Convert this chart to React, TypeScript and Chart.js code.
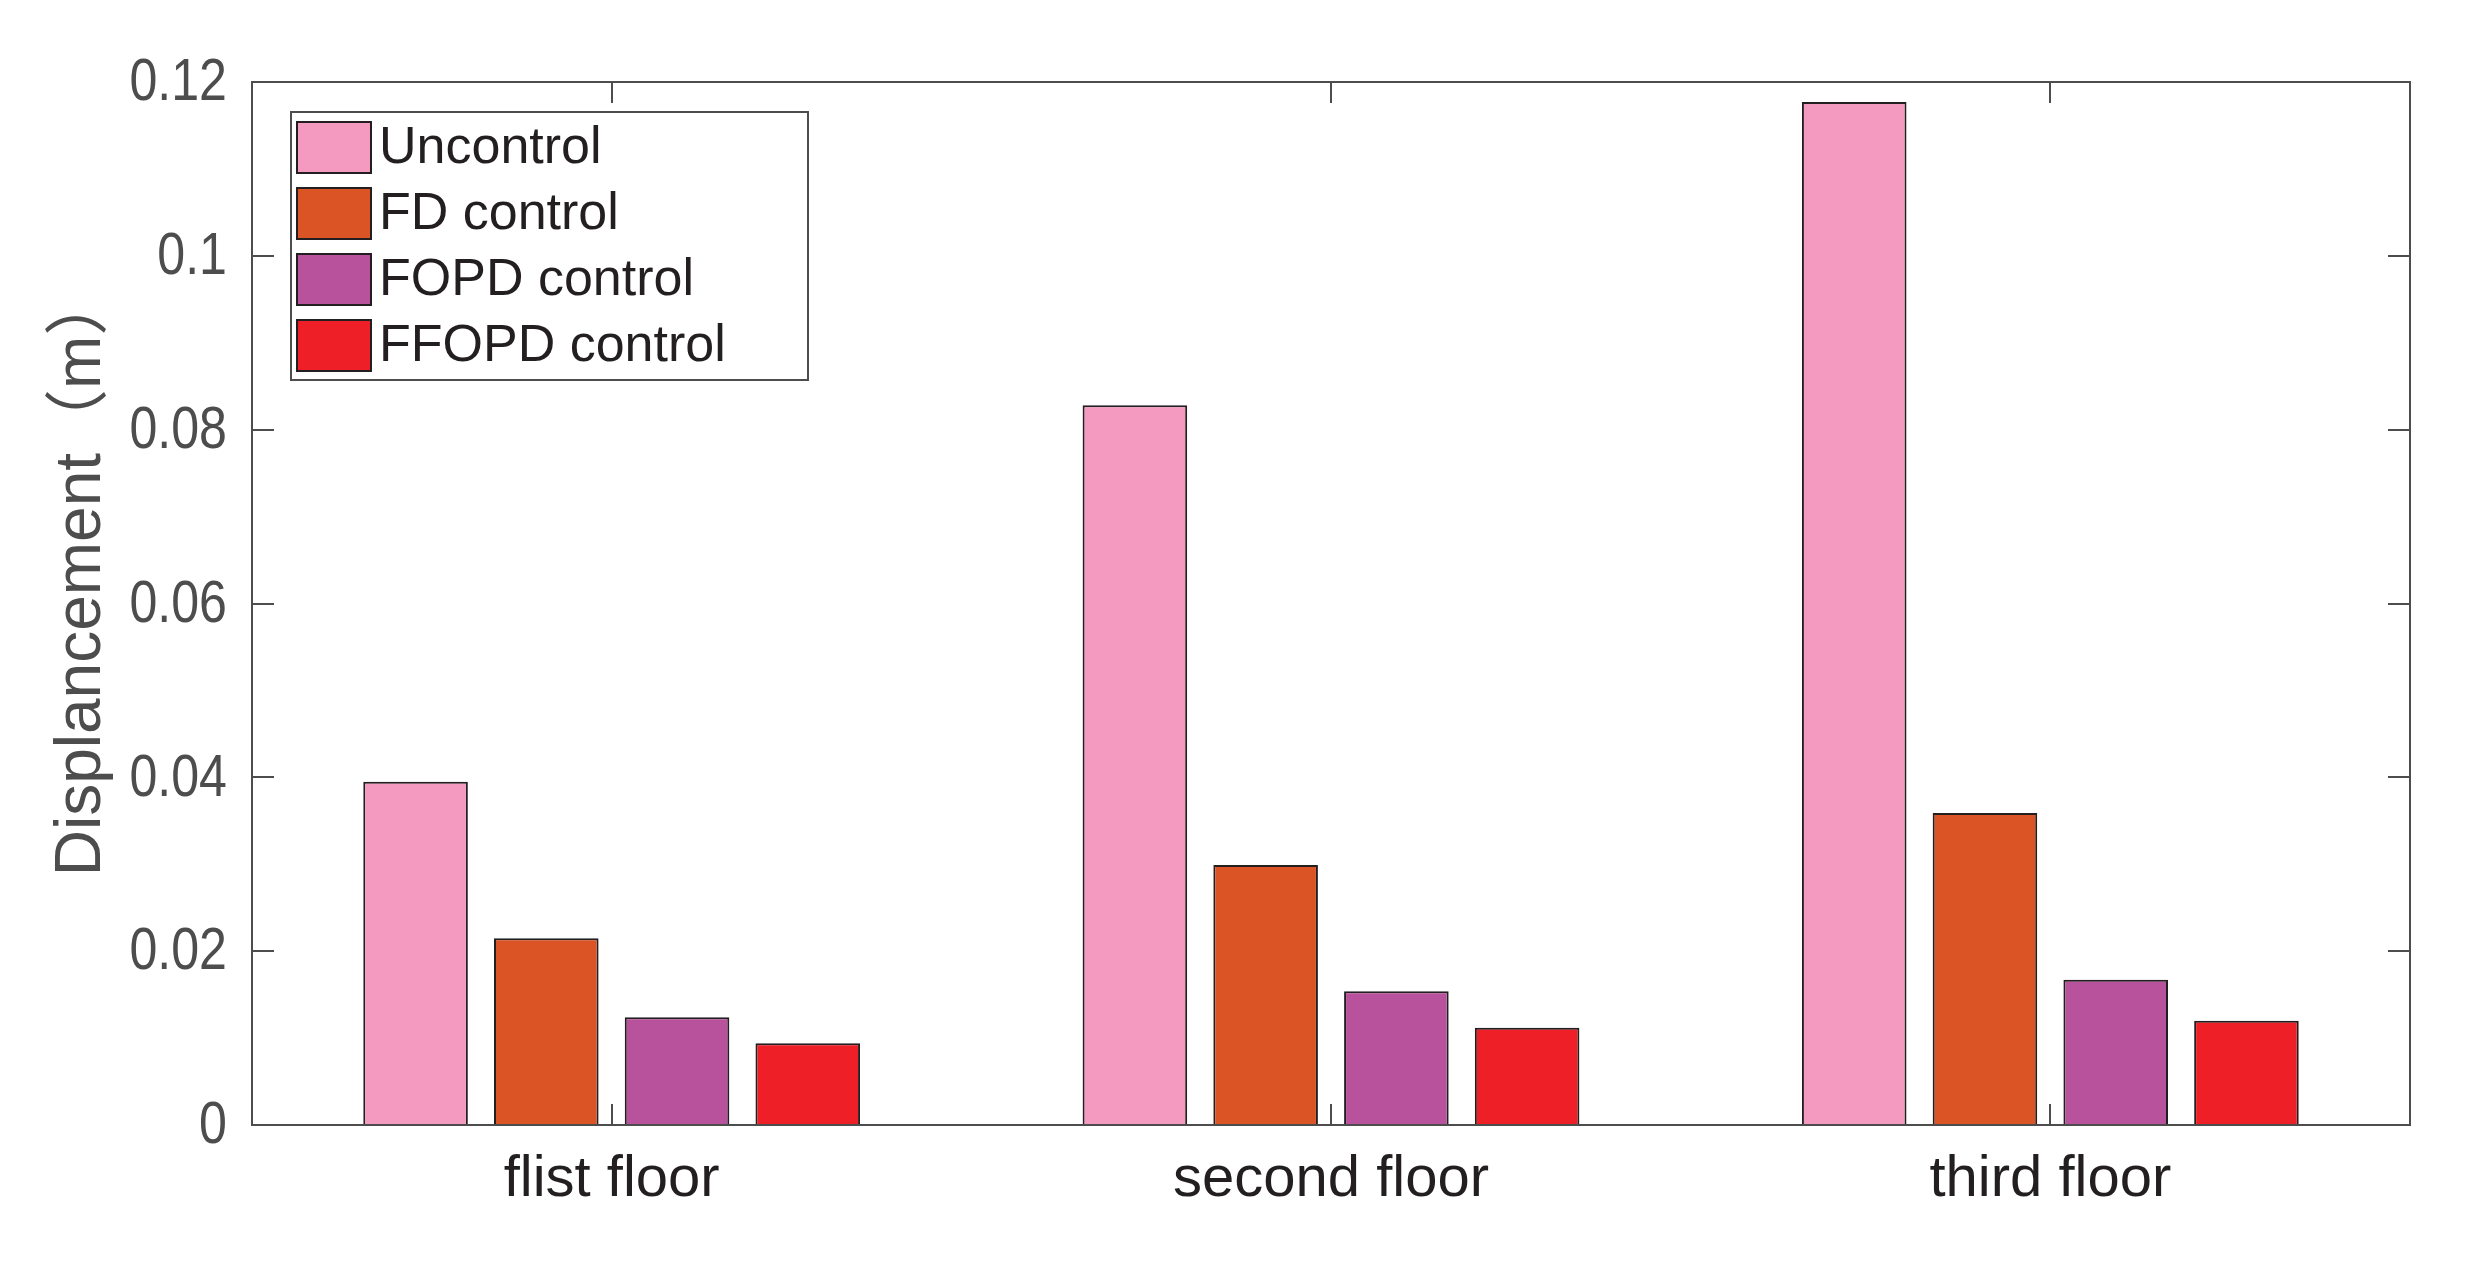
import React, { useEffect, useRef } from "react";
import { Chart, registerables } from "chart.js";

Chart.register(...registerables);

const categories = ["flist floor", "second floor", "third floor"];
const seriesNames = ["Uncontrol", "FD control", "FOPD control", "FFOPD control"];
const uncontrol = [0.0395, 0.0828, 0.1177];
const fdControl = [0.0215, 0.0299, 0.0359];
const fopdControl = [0.0124, 0.0154, 0.0167];
const ffopdControl = [0.0094, 0.0112, 0.0120];
const seriesColors = ["#F49AC1", "#DA5426", "#B8529D", "#EE1F27"];
const yTicks = [0, 0.02, 0.04, 0.06, 0.08, 0.1, 0.12];
const yTitle = "Displancement（m）";

const FONT = "'Liberation Sans', Arial, 'Noto Sans CJK SC', sans-serif";
const AXIS_COLOR = "#4d4d4d";
const TEXT_DARK = "#231f20";

const fmt = (v: number) => String(Number(Number(v).toFixed(2)));

const boxPlugin = {
  id: "matlabBox",
  afterDraw(chart: any) {
    const { ctx, chartArea } = chart;
    const { left, right, top, bottom } = chartArea;
    const xs = chart.scales.x;
    const ys = chart.scales.y;
    ctx.save();
    ctx.strokeStyle = AXIS_COLOR;
    ctx.lineWidth = 2;
    ctx.beginPath();
    ys.ticks.forEach((t: any) => {
      const y = Math.round(ys.getPixelForValue(t.value));
      ctx.moveTo(left, y);
      ctx.lineTo(left + 22, y);
      ctx.moveTo(right, y);
      ctx.lineTo(right - 22, y);
    });
    categories.forEach((_, i) => {
      const x = Math.round(xs.getPixelForValue(i));
      ctx.moveTo(x, bottom);
      ctx.lineTo(x, bottom - 21);
      ctx.moveTo(x, top);
      ctx.lineTo(x, top + 21);
    });
    ctx.stroke();
    ctx.strokeRect(left, top, right - left, bottom - top);

    // y tick labels (slightly condensed, like the original)
    ctx.fillStyle = AXIS_COLOR;
    ctx.font = `59px ${FONT}`;
    ctx.textAlign = "right";
    ctx.textBaseline = "middle";
    ys.ticks.forEach((t: any) => {
      const y = ys.getPixelForValue(t.value);
      ctx.save();
      ctx.translate(left - 25, y + 2);
      ctx.scale(0.85, 1);
      ctx.fillText(fmt(t.value), 0, 0);
      ctx.restore();
    });

    // y-axis title
    ctx.save();
    ctx.translate(82, 574);
    ctx.rotate(-Math.PI / 2);
    ctx.fillStyle = AXIS_COLOR;
    ctx.font = `64px ${FONT}`;
    ctx.textAlign = "center";
    ctx.textBaseline = "middle";
    ctx.fillText(yTitle, 0, 0);
    ctx.restore();

    // legend
    const lx = 291, ly = 112, lw = 517, lh = 268;
    ctx.fillStyle = "#ffffff";
    ctx.fillRect(lx, ly, lw, lh);
    ctx.strokeStyle = AXIS_COLOR;
    ctx.lineWidth = 2;
    ctx.strokeRect(lx, ly, lw, lh);
    chart.data.datasets.forEach((ds: any, i: number) => {
      const sy = 122 + i * 66;
      ctx.fillStyle = ds.backgroundColor;
      ctx.fillRect(297, sy, 74, 51);
      ctx.strokeStyle = TEXT_DARK;
      ctx.lineWidth = 2;
      ctx.strokeRect(297, sy, 74, 51);
      ctx.fillStyle = TEXT_DARK;
      ctx.font = `52px ${FONT}`;
      ctx.textBaseline = "middle";
      ctx.textAlign = "left";
      ctx.fillText(ds.label, 379, sy + 27);
    });
    ctx.restore();
  },
};

export default function App() {
  const ref = useRef<HTMLCanvasElement | null>(null);
  useEffect(() => {
    if (!ref.current) return;
    const values = [uncontrol, fdControl, fopdControl, ffopdControl];
    const chart = new Chart(ref.current, {
      type: "bar",
      data: {
        labels: categories,
        datasets: seriesNames.map((name, i) => ({
          label: name,
          data: values[i],
          backgroundColor: seriesColors[i],
          borderColor: TEXT_DARK,
          borderWidth: 2,
          borderSkipped: "bottom",
          categoryPercentage: 0.727,
          barPercentage: 0.8,
        })),
      },
      options: {
        responsive: false,
        animation: false,
        devicePixelRatio: 1,
        layout: { padding: { top: 82, right: 60, left: 0, bottom: 0 } },
        plugins: { legend: { display: false }, tooltip: { enabled: false } },
        scales: {
          x: {
            grid: { display: false },
            border: { display: false },
            ticks: {
              color: TEXT_DARK,
              font: { family: FONT, size: 58 },
              padding: 12,
              maxRotation: 0,
            },
            afterFit(scale: any) {
              scale.height = 141;
            },
          },
          y: {
            min: 0,
            max: 0.12,
            grid: { display: false },
            border: { display: false },
            afterBuildTicks(scale: any) {
              scale.ticks = yTicks.map((v) => ({ value: v }));
            },
            ticks: { display: false },
            afterFit(scale: any) {
              scale.width = 252;
            },
          },
        },
      },
      plugins: [boxPlugin],
    });
    return () => chart.destroy();
  }, []);
  return (
    <div style={{ position: "fixed", left: 0, top: 0, width: 2470, height: 1266, background: "#fff" }}>
      <canvas ref={ref} width={2470} height={1266} style={{ width: 2470, height: 1266, display: "block" }} />
    </div>
  );
}
